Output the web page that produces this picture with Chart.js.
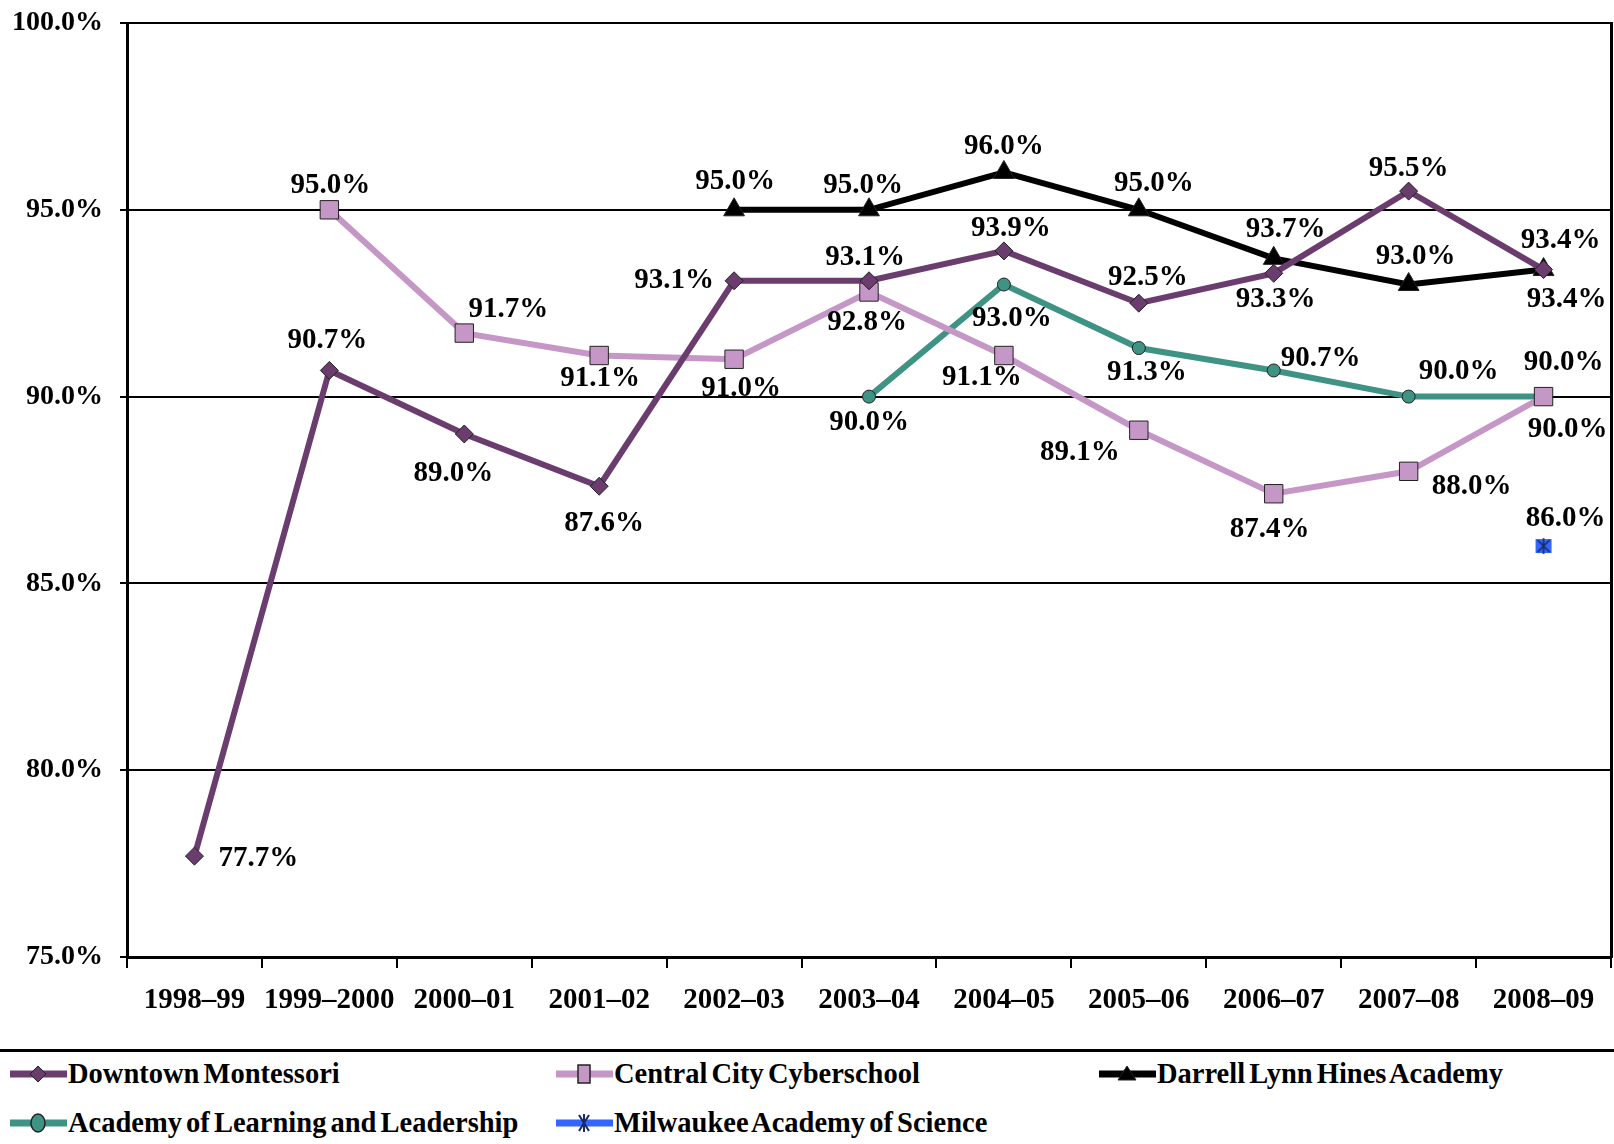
<!DOCTYPE html>
<html>
<head>
<meta charset="utf-8">
<script src="https://cdn.jsdelivr.net/npm/chart.js@4/dist/chart.umd.min.js"></script>
<style>
  html, body { margin: 0; padding: 0; background: #fff; }
  #wrap { position: relative; width: 1614px; height: 1144px; overflow: hidden; }
  #c { position: absolute; left: 0; top: 0; }
  #sep { position: absolute; left: 0; top: 1049px; width: 1614px; height: 3px; background: #000; }
  .lg { position: absolute; height: 40px; display: flex; align-items: center; font: bold 28.5px "Liberation Serif", serif; word-spacing: -3px; color: #000; white-space: nowrap; }
  .lg svg { margin-right: 1px; }
</style>
</head>
<body>
<div id="wrap">
  <canvas id="c" width="1614" height="1050"></canvas>
  <div id="sep"></div>
  <div id="legend"></div>
</div>
<script>
// ---- data ----
const categories = ['1998\u201399','1999\u20132000','2000\u201301','2001\u201302','2002\u201303','2003\u201304','2004\u201305','2005\u201306','2006\u201307','2007\u201308','2008\u201309'];
const seriesNames = ['Downtown Montessori','Central City Cyberschool','Darrell Lynn Hines Academy','Academy of Learning and Leadership','Milwaukee Academy of Science'];
const downtownMontessori = [77.7, 90.7, 89.0, 87.6, 93.1, 93.1, 93.9, 92.5, 93.3, 95.5, 93.4];
const centralCityCyberschool = [null, 95.0, 91.7, 91.1, 91.0, 92.8, 91.1, 89.1, 87.4, 88.0, 90.0];
const darrellLynnHines = [null, null, null, null, 95.0, 95.0, 96.0, 95.0, 93.7, 93.0, 93.4];
const academyLearningLeadership = [null, null, null, null, null, 90.0, 93.0, 91.3, 90.7, 90.0, 90.0];
const milwaukeeAcademyScience = [null, null, null, null, null, null, null, null, null, null, 86.0];
const yTicks = [75, 80, 85, 90, 95, 100];

// ---- styles ----
const colors = ['#6B3D6E', '#C597C6', '#000000', '#3F9384', '#3366FF'];

// label offsets (dx, dy) relative to each point, in pixels
const labelOffsets = [
  [[64,2],[-2,-30],[-11,40],[5,37],[-60,0],[-4,-23],[7,-22],[9,-26],[2,26],[0,-23],[17,-29]],
  [null,[1,-24],[44,-24],[1,23],[7,29],[-2,31],[-22,22],[-59,22],[-4,36],[63,15],[24,33]],
  [null,null,null,null,[1,-28],[-6,-24],[0,-26],[15,-26],[12,-29],[7,-28],[23,30]],
  [null,null,null,null,null,[0,26],[8,34],[8,24],[47,-12],[50,-25],[20,-34]],
  [null,null,null,null,null,null,null,null,null,null,[22,-28]]
];

function makeStarMarker() {
  const c = document.createElement('canvas');
  c.width = 18; c.height = 18;
  const g = c.getContext('2d');
  g.fillStyle = '#3366FF';
  g.fillRect(1, 2, 16, 14);
  g.strokeStyle = '#1a2a66';
  g.lineWidth = 1.6;
  g.beginPath();
  g.moveTo(3, 3); g.lineTo(15, 15);
  g.moveTo(15, 3); g.lineTo(3, 15);
  g.moveTo(9, 1); g.lineTo(9, 17);
  g.stroke();
  return c;
}
const starMarker = makeStarMarker();

const pointStyles = ['rectRot', 'rect', 'triangle', 'circle', starMarker];
const pointRadii = [9, 13, 12, 6.5, 9];
const seriesData = [downtownMontessori, centralCityCyberschool, darrellLynnHines, academyLearningLeadership, milwaukeeAcademyScience];

const datasets = seriesData.map((d, i) => ({
  label: seriesNames[i],
  data: d,
  borderColor: colors[i],
  backgroundColor: colors[i],
  borderWidth: 6,
  pointStyle: pointStyles[i],
  pointRadius: pointRadii[i],
  pointBackgroundColor: colors[i],
  pointBorderColor: '#222',
  pointBorderWidth: 1,
  spanGaps: false,
  tension: 0
}));

const labelPlugin = {
  id: 'valueLabels',
  afterDatasetsDraw(chart) {
    const ctx = chart.ctx;
    ctx.save();
    ctx.font = 'bold 29px "Liberation Serif", serif';
    ctx.fillStyle = '#000';
    ctx.textAlign = 'center';
    ctx.textBaseline = 'middle';
    chart.data.datasets.forEach((ds, i) => {
      const meta = chart.getDatasetMeta(i);
      meta.data.forEach((el, j) => {
        const v = ds.data[j];
        if (v === null || v === undefined) return;
        const off = labelOffsets[i][j] || [0, -25];
        ctx.fillText(v.toFixed(1) + '%', el.x + off[0], el.y + off[1]);
      });
    });
    ctx.restore();
  }
};

function zeroPad(s) { s.paddingTop = 0; s.paddingBottom = 0; s.paddingLeft = 0; s.paddingRight = 0; }

new Chart(document.getElementById('c'), {
  type: 'line',
  data: { labels: categories, datasets },
  options: {
    responsive: false,
    animation: false,
    events: [],
    layout: { autoPadding: false, padding: { left: 0, right: 3, top: 23, bottom: 0 } },
    plugins: { legend: { display: false }, tooltip: { enabled: false } },
    scales: {
      x: {
        type: 'category',
        offset: true,
        grid: { display: true, drawOnChartArea: false, drawTicks: true, tickLength: 11, color: '#000', lineWidth: 2, offset: true },
        border: { display: true, color: '#000', width: 3 },
        ticks: { color: '#000', font: { family: 'Liberation Serif', weight: 'bold', size: 29 }, padding: 15, maxRotation: 0, autoSkip: false },
        afterFit(s) { s.height = 93; zeroPad(s); }
      },
      y: {
        min: 75, max: 100,
        afterBuildTicks(s) { s.ticks = yTicks.map(v => ({ value: v })); },
        grid: { color: '#000', lineWidth: 2, tickLength: 7, drawTicks: true },
        border: { display: true, color: '#000', width: 3 },
        ticks: { color: '#000', font: { family: 'Liberation Serif', weight: 'bold', size: 28 }, padding: 17,
                 callback: v => v.toFixed(1) + '%' },
        afterFit(s) { s.width = 127; zeroPad(s); }
      },
      y2: {
        position: 'right',
        display: true,
        grid: { display: false, drawOnChartArea: false, drawTicks: false },
        border: { display: true, color: '#000', width: 3 },
        ticks: { display: false },
        afterFit(s) { s.width = 0; zeroPad(s); }
      }
    }
  },
  plugins: [labelPlugin]
});

// ---- legend ----
const legendPos = [[10, 1054], [556, 1054], [1099, 1054], [10, 1103], [556, 1103]];
function markerSvg(i) {
  const c = colors[i];
  const cx = 28, cy = 20;
  let m = '';
  if (i === 0) m = `<polygon points="${cx},${cy-8} ${cx+8},${cy} ${cx},${cy+8} ${cx-8},${cy}" fill="${c}" stroke="#222" stroke-width="1"/>`;
  else if (i === 1) m = `<rect x="${cx-6}" y="${cy-9}" width="12" height="18" fill="${c}" stroke="#222" stroke-width="1.5"/>`;
  else if (i === 2) m = `<polygon points="${cx},${cy-8} ${cx+9},${cy+6} ${cx-9},${cy+6}" fill="${c}" stroke="#222" stroke-width="1"/>`;
  else if (i === 3) m = `<ellipse cx="${cx}" cy="${cy}" rx="7" ry="9" fill="${c}" stroke="#222" stroke-width="1.5"/>`;
  else m = `<path d="M${cx-5},${cy-8} L${cx+5},${cy+8} M${cx+5},${cy-8} L${cx-5},${cy+8} M${cx},${cy-9} L${cx},${cy+9}" stroke="#1a2a66" stroke-width="2"/>`;
  return `<svg width="57" height="40" viewBox="0 0 57 40"><line x1="0" y1="${cy}" x2="57" y2="${cy}" stroke="${c}" stroke-width="7" stroke-linecap="round"/>${m}</svg>`;
}
const lg = document.getElementById('legend');
seriesNames.forEach((name, i) => {
  const d = document.createElement('div');
  d.className = 'lg';
  d.style.left = legendPos[i][0] + 'px';
  d.style.top = legendPos[i][1] + 'px';
  d.innerHTML = markerSvg(i) + '<span>' + name + '</span>';
  lg.appendChild(d);
});
</script>
</body>
</html>
